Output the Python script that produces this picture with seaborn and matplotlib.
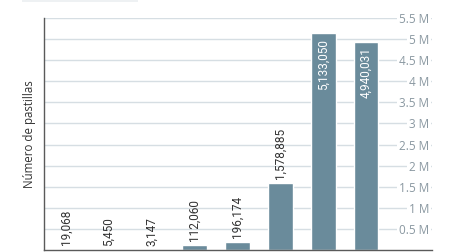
import matplotlib
matplotlib.use("Agg")
import matplotlib.pyplot as plt
import matplotlib.patches as mpatches
from matplotlib.ticker import FuncFormatter
import seaborn as sns
import pandas as pd

categories = ["1", "2", "3", "4", "5", "6", "7", "8"]
values = [19068, 5450, 3147, 112060, 196174, 1578885, 5133050, 4940031]
value_labels = ["19,068", "5,450", "3,147", "112,060", "196,174", "1,578,885", "5,133,050", "4,940,031"]
y_ticks = [0.5e6, 1e6, 1.5e6, 2e6, 2.5e6, 3e6, 3.5e6, 4e6, 4.5e6, 5e6, 5.5e6]
y_label = "Número de pastillas"

sns.set_theme(style="white")
plt.rcParams["font.family"] = ["Open Sans", "DejaVu Sans"]

bar_color = "#6a8b9b"
grid_color = "#d6dee3"
tick_color = "#8a98a1"
text_color = "#333333"
spine_color = "#5a5a5a"

fig = plt.figure(figsize=(4.49, 2.52), dpi=100)
W, H = 449, 252
ax = fig.add_axes([44 / W, 2 / H, (432 - 44) / W, (234 - 2) / H])

df = pd.DataFrame({"cat": categories, "val": values})
sns.barplot(data=df, x="cat", y="val", color=bar_color, saturation=1,
            width=0.58, ax=ax, zorder=2)

ax.set_xlim(-0.51, 8.54)
ax.set_ylim(0, 5.5e6)
ax.set_yticks(y_ticks)
ax.yaxis.tick_right()
ax.yaxis.set_major_formatter(FuncFormatter(lambda v, p: f"{v/1e6:g} M"))
ax.tick_params(axis="y", length=0, pad=-2, labelsize=8.5, labelcolor=tick_color)
for lab in ax.get_yticklabels():
    lab.set_ha("right")
    lab.set_bbox(dict(facecolor="white", edgecolor="none", pad=1.5))
ax.tick_params(axis="x", length=0, labelbottom=False)
ax.set_xlabel("")
ax.grid(axis="y", color=grid_color, linewidth=1.0)
ax.set_axisbelow(True)

for s in ["top", "right"]:
    ax.spines[s].set_visible(False)
for s in ["left", "bottom"]:
    ax.spines[s].set_color(spine_color)
    ax.spines[s].set_linewidth(1.0)
ax.spines["bottom"].set_zorder(3)

ax.set_ylabel(y_label, fontsize=8.3, color=text_color, labelpad=6)
ax.yaxis.set_label_position("left")

label_font = ["Liberation Sans Narrow", "Roboto", "DejaVu Sans"]
for i, (v, t) in enumerate(zip(values, value_labels)):
    if v > 3e6:
        ax.annotate(t, (i, v), xytext=(0, -4), textcoords="offset points",
                    rotation=90, ha="center", va="top", color="white",
                    fontsize=8.5, family=label_font, zorder=4)
    else:
        ax.annotate(t, (i, v), xytext=(0, 3), textcoords="offset points",
                    rotation=90, ha="center", va="bottom", color=text_color,
                    fontsize=8.5, family=label_font, zorder=4)

fig.patches.append(mpatches.Rectangle((22 / W, 250 / H), (138 - 22) / W, 2 / H,
                                      transform=fig.transFigure, facecolor="#eef1f3",
                                      edgecolor="none"))

fig.savefig("out.png", dpi=100)
